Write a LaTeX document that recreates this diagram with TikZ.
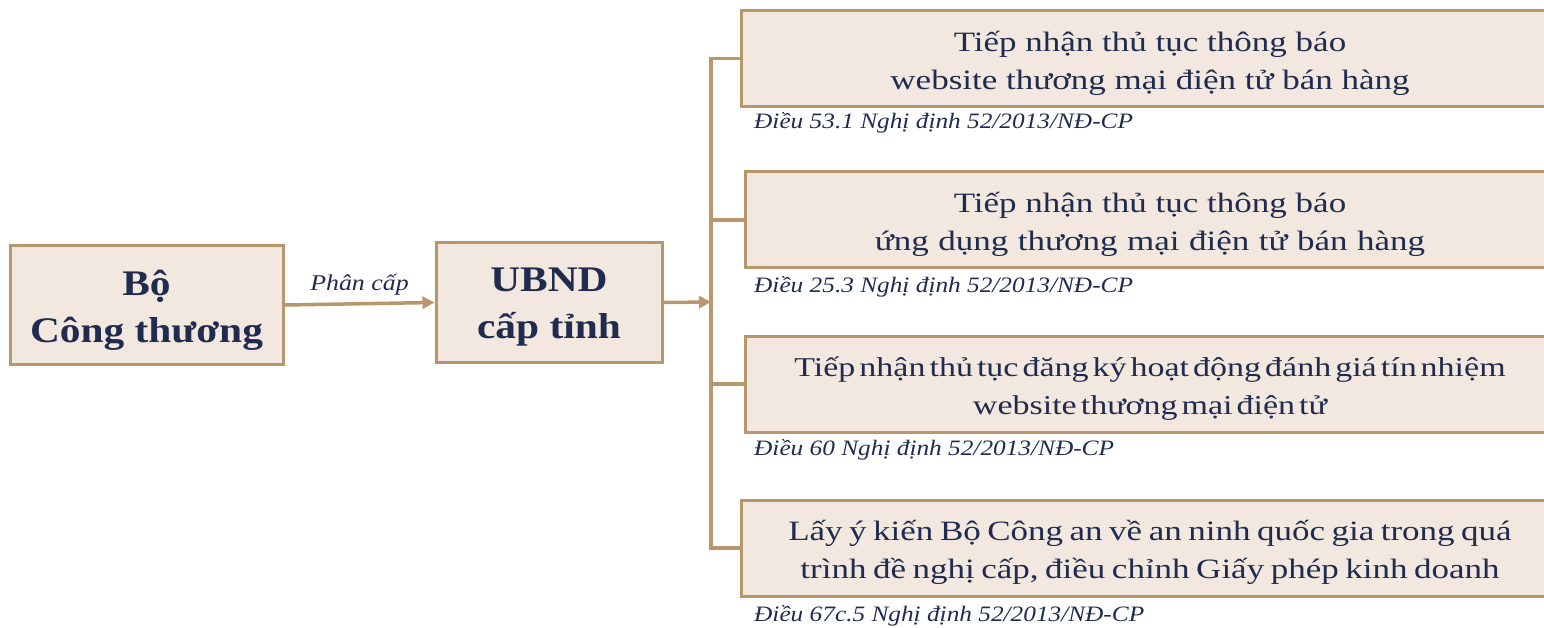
\documentclass[tikz,border=0pt]{standalone}
\usepackage{fontspec}
\setmainfont{Liberation Serif}
\newfontfamily\boxfont[FakeStretch=1.25]{Liberation Serif}
\newfontfamily\headfont[FakeStretch=1.15]{Liberation Serif}
\newfontfamily\notefont[FakeStretch=1.15]{Liberation Serif}
\usetikzlibrary{arrows.meta}
\definecolor{boxfill}{HTML}{F2E8DF}
\definecolor{boxline}{HTML}{B8976E}
\definecolor{navy}{HTML}{1F2B4F}
\newcommand{\wsp}[1]{\spaceskip=#1\relax}
\tikzset{
  box/.style={draw=boxline, line width=3pt, fill=boxfill, text=navy, align=center, inner sep=0pt},
  leftbox/.style={box},
  headtext/.style={text=navy, align=center, inner sep=0pt, font=\headfont\fontsize{36}{47}\selectfont\bfseries},
  rightbox/.style={box, minimum width=818pt, minimum height=96pt},
  boxtext/.style={text=navy, align=center, inner sep=0pt, font=\boxfont\fontsize{28}{38}\selectfont},
  note/.style={text=navy, anchor=west, inner sep=0pt, font=\notefont\fontsize{22}{26}\selectfont\itshape},
  conn/.style={draw=boxline, line width=3.5pt},
  arr/.style={conn, -{Triangle[length=12pt,width=12pt]}}
}
\begin{document}
\begin{tikzpicture}[x=1pt,y=-1pt]
\useasboundingbox (0,0) rectangle (1544,628);
\clip (0,0) rectangle (1544,628);
\node[leftbox, minimum width=273pt, minimum height=118pt] (bo) at (146.5,305) {};
\node[headtext] (bot) at (146.5,310) {Bộ\\Công thương};
\node[leftbox, minimum width=226pt, minimum height=119pt] (ubnd) at (549,302.5) {};
\node[headtext] (ubt) at (549,307) {UBND\\cấp tỉnh};
\draw[arr] (bo.east) -- node[above=3pt, text=navy, font=\notefont\fontsize{22.5}{26}\selectfont\itshape] (pc) {Phân cấp} (ubnd.west);
\node[rightbox] (r1) at (1150,58.5) {};
\node[boxtext] (t1) at (1150,63) {Tiếp nhận thủ tục thông báo\\website thương mại điện tử bán hàng};
\node[rightbox] (r2) at (1154,220) {};
\node[boxtext] (t2) at (1150,224.5) {Tiếp nhận thủ tục thông báo\\\wsp{9.5pt}ứng dụng thương mại điện tử bán hàng};
\node[rightbox] (r3) at (1154,384) {};
\node[boxtext, font=\boxfont\fontsize{27.2}{38}\selectfont] (t3) at (1150,388.5) {\wsp{4pt}Tiếp nhận thủ tục đăng ký hoạt động đánh giá tín nhiệm\\\wsp{4pt}website thương mại điện tử};
\node[rightbox] (r4) at (1150,548) {};
\node[boxtext] (t4) at (1150,552.5) {\wsp{6.5pt}Lấy ý kiến Bộ Công an về an ninh quốc gia trong quá\\\wsp{6.5pt}trình đề nghị cấp, điều chỉnh Giấy phép kinh doanh};
\node[note] (n1) at (754,123) {Điều 53.1 Nghị định 52/2013/NĐ-CP};
\node[note] (n2) at (754,287) {Điều 25.3 Nghị định 52/2013/NĐ-CP};
\node[note] (n3) at (754,450) {Điều 60 Nghị định 52/2013/NĐ-CP};
\node[note] (n4) at (754,616) {Điều 67c.5 Nghị định 52/2013/NĐ-CP};
\coordinate (bx) at (711,302);
\coordinate (top) at (711,58.5);
\coordinate (bt) at (711,548);
\coordinate (m2) at (711,220);
\coordinate (m3) at (711,384);
\draw[arr] (ubnd.east) -- (bx);
\draw[conn, line cap=rect] (r1.west) -- (top) -- (bt) -- (r4.west);
\draw[conn] (m2) -- (r2.west);
\draw[conn] (m3) -- (r3.west);
\end{tikzpicture}
\end{document}
